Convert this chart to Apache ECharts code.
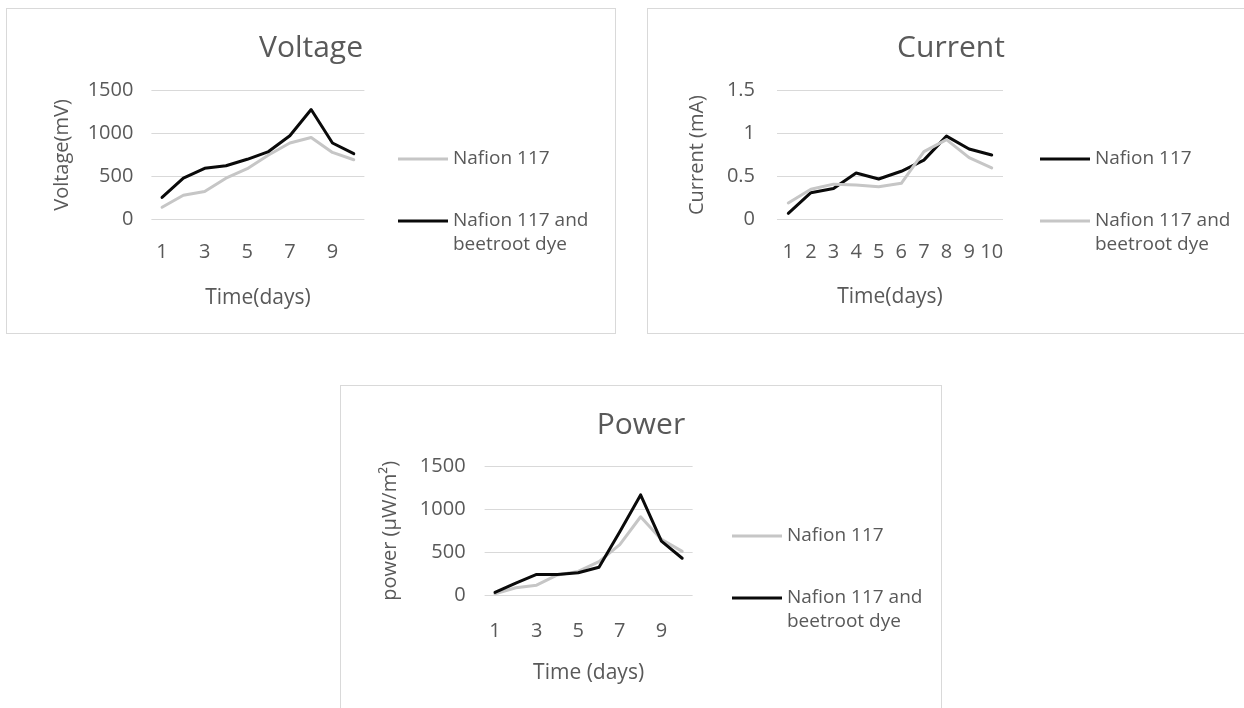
<!DOCTYPE html>
<html>
<head>
<meta charset="utf-8">
<script src="https://cdn.jsdelivr.net/npm/echarts@6/dist/echarts.min.js"></script>
<style>
html,body{margin:0;padding:0;background:#fff;width:1244px;height:708px;overflow:hidden;position:relative;}
.panel{position:absolute;border:1px solid #d9d9d9;background:#fff;}
</style>
</head>
<body>
<div id="v" class="panel" style="left:6px;top:8px;width:608px;height:324px;"></div>
<div id="c" class="panel" style="left:647px;top:8px;width:606px;height:324px;"></div>
<div id="p" class="panel" style="left:340px;top:385px;width:600px;height:340px;"></div>
<script>
// ---- data ----
const days = ['1','2','3','4','5','6','7','8','9','10'];

const voltageNafion = [140, 280, 325, 480, 590, 750, 890, 955, 780, 695];
const voltageBeet   = [255, 480, 595, 625, 700, 790, 975, 1280, 890, 765];

const currentNafion = [0.07, 0.31, 0.36, 0.54, 0.47, 0.56, 0.69, 0.97, 0.82, 0.75];
const currentBeet   = [0.19, 0.35, 0.41, 0.40, 0.38, 0.42, 0.79, 0.93, 0.72, 0.60];

const powerNafion = [15, 85, 115, 235, 275, 390, 590, 915, 650, 510];
const powerBeet   = [30, 140, 240, 240, 260, 325, 740, 1170, 630, 430];

const nameA = 'Nafion 117';
const nameB = 'Nafion 117 and\nbeetroot dye';

// ---- styling ----
const FONT = '"Open Sans", "Liberation Sans", sans-serif';
const TXT = '#595959';
const BLACK = '#0a0a0a';
const GRAY = '#c6c6c6';

function legendPair(left) {
  const base = {
    orient: 'vertical', left: left, padding: 0, itemWidth: 50, itemHeight: 3,
    icon: 'rect', selectedMode: false,
    itemStyle: { borderWidth: 0 },
    textStyle: { fontFamily: FONT, fontSize: 19, color: TXT, lineHeight: 24 }
  };
  return [
    Object.assign({}, base, { top: 138, data: [nameA] }),
    Object.assign({}, base, { top: 176, data: [nameB],
      formatter: function (n) { return '\n' + n; } })
  ];
}

function lineSeries(name, data, color) {
  return {
    type: 'line', name: name, data: data, symbol: 'none', showSymbol: false,
    lineStyle: { color: color, width: 3, join: 'round', cap: 'round' },
    itemStyle: { color: color }, emphasis: { disabled: true }, silent: true
  };
}

function makeOption(cfg) {
  return {
    animation: false,
    textStyle: { fontFamily: FONT },
    title: {
      text: cfg.title, left: 'center', top: 24, padding: 0,
      textStyle: { fontFamily: FONT, fontSize: 30, fontWeight: 'normal', color: TXT }
    },
    legend: legendPair(cfg.legendLeft),
    grid: {
      left: cfg.gridLeft, top: cfg.gridTop, width: cfg.gridWidth, height: cfg.gridHeight,
      containLabel: false, outerBoundsMode: 'none'
    },
    xAxis: {
      type: 'category', data: days, boundaryGap: true,
      name: cfg.xName, nameLocation: 'middle', nameGap: cfg.xNameGap, nameMoveOverlap: false,
      nameTextStyle: { fontFamily: FONT, fontSize: 21, color: TXT },
      axisLine: { show: false }, axisTick: { show: false },
      axisLabel: { interval: cfg.labelInterval, margin: cfg.xLabelMargin, fontFamily: FONT, fontSize: 20, color: TXT },
      splitLine: { show: false }
    },
    yAxis: {
      type: 'value', min: 0, max: cfg.yMax, interval: cfg.yInterval,
      name: cfg.yName, nameLocation: 'middle', nameGap: cfg.yNameGap, nameMoveOverlap: false,
      nameTextStyle: { fontFamily: FONT, fontSize: 20, color: TXT, padding: cfg.yNamePad },
      axisLine: { show: false }, axisTick: { show: false },
      axisLabel: { margin: cfg.yLabelMargin, fontFamily: FONT, fontSize: 20, color: TXT,
                   formatter: function (v) { return String(v); } },
      splitLine: { show: true, lineStyle: { color: '#d9d9d9', width: 1 } }
    },
    series: cfg.series
  };
}

const vChart = echarts.init(document.getElementById('v'), null, { renderer: 'canvas' });
vChart.setOption(makeOption({
  title: 'Voltage', legendLeft: 391,
  gridLeft: 144.4, gridTop: 81.7, gridWidth: 213, gridHeight: 128.6,
  xName: 'Time(days)', xNameGap: 68, labelInterval: 1, xLabelMargin: 23,
  yName: 'Voltage(mV)', yNameGap: 57, yNamePad: [0, 0, 22, 0], yMax: 1500, yInterval: 500, yLabelMargin: 18,
  series: [
    lineSeries(nameA, voltageNafion, GRAY),
    lineSeries(nameB, voltageBeet, BLACK)
  ]
}));

const cChart = echarts.init(document.getElementById('c'), null, { renderer: 'canvas' });
cChart.setOption(makeOption({
  title: 'Current', legendLeft: 392,
  gridLeft: 129, gridTop: 81.7, gridWidth: 226, gridHeight: 128.6,
  xName: 'Time(days)', xNameGap: 67, labelInterval: 0, xLabelMargin: 23,
  yName: 'Current (mA)', yNameGap: 70, yNamePad: 0, yMax: 1.5, yInterval: 0.5, yLabelMargin: 22,
  series: [
    lineSeries(nameA, currentNafion, BLACK),
    lineSeries(nameB, currentBeet, GRAY)
  ]
}));

const pChart = echarts.init(document.getElementById('p'), null, { renderer: 'canvas' });
pChart.setOption(makeOption({
  title: 'Power', legendLeft: 391,
  gridLeft: 143.6, gridTop: 80.7, gridWidth: 208, gridHeight: 128.3,
  xName: 'Time (days)', xNameGap: 68, labelInterval: 1, xLabelMargin: 26,
  yName: 'power (\u00B5W/m\u00B2)', yNameGap: 84, yNamePad: 0, yMax: 1500, yInterval: 500, yLabelMargin: 19,
  series: [
    lineSeries(nameA, powerNafion, GRAY),
    lineSeries(nameB, powerBeet, BLACK)
  ]
}));
</script>
</body>
</html>
